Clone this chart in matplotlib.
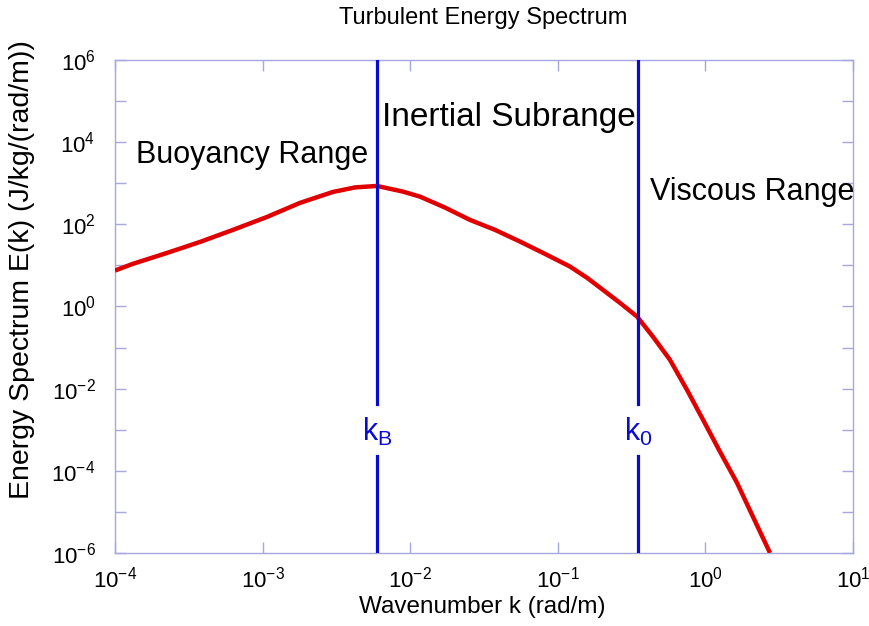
import numpy as np
from matplotlib import pyplot as plt

plt.rcParams['font.family'] = ['Liberation Sans', 'DejaVu Sans']
plt.rcParams['mathtext.fontset'] = 'custom'
plt.rcParams['mathtext.rm'] = 'Liberation Sans'
plt.rcParams['mathtext.it'] = 'Liberation Sans'
plt.rcParams['mathtext.default'] = 'regular'

# wavenumber (rad/m) and spectrum values
k = [1.0e-4, 1.32e-4, 2.25e-4, 3.77e-4, 6.29e-4, 1.07e-3, 1.79e-3, 3.0e-3,
     4.23e-3, 5.96e-3, 8.93e-3, 1.164e-2, 1.722e-2, 2.54e-2, 3.76e-2,
     5.55e-2, 8.18e-2, 0.121, 0.158, 0.202, 0.264, 0.344, 0.442, 0.575,
     0.750, 0.964, 1.256, 1.637, 2.10, 2.74]
E = [7.5, 10.9, 20.1, 37.3, 73.1, 151, 332, 614,
     791, 859, 625, 472, 255, 128, 73.1,
     37.9, 19.1, 9.35, 4.97, 2.54, 1.22, 0.568, 0.182, 0.0502,
     9.35e-3, 1.74e-3, 2.90e-4, 5.1e-5, 7.6e-6, 1.0e-6]

k_B = 0.006
k_0 = 0.35

xticks = [1e-4, 1e-3, 1e-2, 1e-1, 1e0, 1e1]
xlabels = ['$10^{-4}$', '$10^{-3}$', '$10^{-2}$', '$10^{-1}$', '$10^{0}$', '$10^{1}$']
yticks = [10.0 ** p for p in range(-6, 7)]
ylabels = ['$10^{%d}$' % p if p % 2 == 0 else '' for p in range(-6, 7)]

frame = '#a8a8e0'
blue = '#0a0ad0'
red = '#e00000'

fig = plt.figure(figsize=(8.7, 6.26), dpi=100)
ax = fig.add_axes([0.1322, 0.1166, 0.8483, 0.7876])

ax.plot(k, E, color=red, lw=3.2, solid_capstyle='butt', solid_joinstyle='round', zorder=3)

# vertical markers with a gap for the label
for kv, lab in [(k_B, '$k_B$'), (k_0, '$k_0$')]:
    ax.axvline(kv, ymin=0.302, ymax=1.0, color=blue, lw=2.3, zorder=4)
    ax.axvline(kv, ymin=0.0, ymax=0.197, color=blue, lw=2.3, zorder=4)
    ax.text(kv, 0.245, lab, transform=ax.get_xaxis_transform(),
            ha='center', va='center', color=blue, fontsize=22)

ax.set_xscale('log')
ax.set_yscale('log')
ax.set_xlim(1e-4, 10)
ax.set_ylim(1e-6, 1e6)
ax.set_xticks(xticks)
ax.set_xticklabels(xlabels, fontsize=16)
ax.set_yticks(yticks)
ax.set_yticklabels(ylabels, fontsize=16)
ax.minorticks_off()
ax.tick_params(direction='in', length=8, width=1, color=frame,
               top=True, right=True, pad=10)
ax.tick_params(axis='y', pad=14)
for s in ax.spines.values():
    s.set_color(frame)
    s.set_linewidth(1)

ax.text(8.5e-4, 4.9e3, 'Buoyancy Range', ha='center', va='center', fontsize=22)
ax.text(0.0467, 3.9e4, 'Inertial Subrange', ha='center', va='center', fontsize=24)
ax.text(2.07, 6.2e2, 'Viscous Range', ha='center', va='center', fontsize=22)

fig.text(483 / 870, 1 - 18 / 626, 'Turbulent Energy Spectrum',
         ha='center', va='center', fontsize=17)
fig.text(482 / 870, 1 - 607 / 626, 'Wavenumber k (rad/m)',
         ha='center', va='center', fontsize=17.5)
fig.text(22 / 870, 1 - 270 / 626, 'Energy Spectrum E(k) (J/kg/(rad/m))',
         ha='center', va='center', rotation=90, fontsize=20.5)

fig.savefig('out.png', dpi=100)
